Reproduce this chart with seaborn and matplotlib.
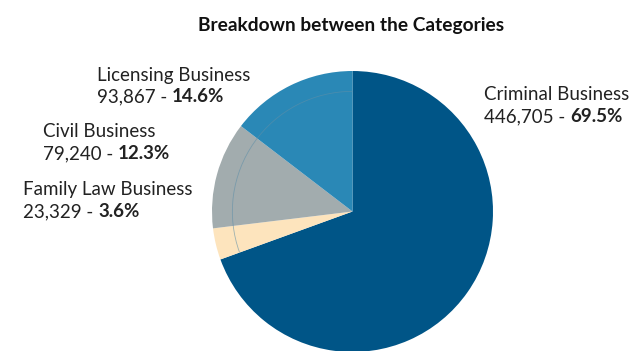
import matplotlib
matplotlib.use("Agg")
import matplotlib.pyplot as plt
import numpy as np
import seaborn as sns
from matplotlib.patches import Arc

sns.set_theme(style="white")
plt.rcParams["font.family"] = ["Lato", "DejaVu Sans"]

categories = ["Criminal Business", "Family Law Business", "Civil Business", "Licensing Business"]
cases = [446705, 23329, 79240, 93867]
shares = [69.5, 3.6, 12.3, 14.6]
colors = ["#005587", "#fde4bd", "#a2acae", "#2a88b6"]

W, H = 634, 351
fig = plt.figure(figsize=(W / 100, H / 100), dpi=100)

# pie axes: centre (352.5, 211.5) px, radius 140.5 px
cx, cy, r = 352.5, 211.5, 140.5
ax = fig.add_axes([(cx - r) / W, (H - cy - r) / H, 2 * r / W, 2 * r / H])
ax.pie(cases, colors=colors, startangle=90, counterclock=False, radius=1.0,
       wedgeprops=dict(linewidth=0))
ax.set_xlim(-1, 1)
ax.set_ylim(-1, 1)
ax.set_aspect("equal")
ax.axis("off")

# faint inner ring over the smaller slices
total = sum(cases)
end_ang = 90 + 360 * sum(cases[1:]) / total
ax.add_patch(Arc((0, 0), 2 * 0.855, 2 * 0.855, theta1=90, theta2=end_ang,
                 color="#5f8fa8", lw=0.6, alpha=0.6))

fig.text(351.5 / W, 1 - 31 / H, "Breakdown between the Categories", ha="center", va="baseline",
         fontsize=13.8, fontweight="bold", color="#111111")

# label positions (left x, first-line baseline y) in px
label_pos = {
    "Criminal Business": (484, 100.5),
    "Family Law Business": (23, 195),
    "Civil Business": (43, 137),
    "Licensing Business": (97, 80.5),
}
fs = 13.5
gap = 22
for name, n, pct in zip(categories, cases, shares):
    x, y = label_pos[name]
    fig.text(x / W, 1 - y / H, name, ha="left", va="baseline", fontsize=fs, color="#222222")
    t = fig.text(x / W, 1 - (y + gap) / H, f"{n:,} - ", ha="left", va="baseline",
                 fontsize=fs, color="#222222")
    fig.canvas.draw()
    bb = t.get_window_extent()
    fig.text(bb.x1 / W, 1 - (y + gap) / H, f"{pct:.1f}%", ha="left", va="baseline",
             fontsize=fs, fontweight="bold", color="#222222")

fig.savefig("out.png", dpi=100)
